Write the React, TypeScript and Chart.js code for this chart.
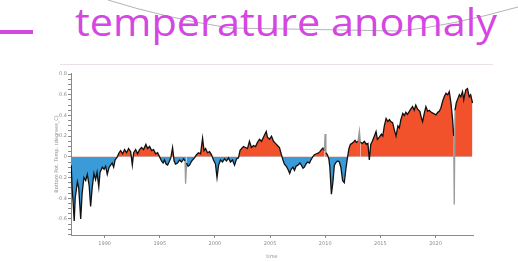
import React, { useEffect, useRef } from "react";
import { Chart, registerables } from "chart.js";
Chart.register(...registerables);

const TITLE = "temperature anomaly";
const X_TITLE = "time";
const Y_TITLE = "Bottom Pot. Temp. (degrees_C)";
const xTickYears = [1990, 1995, 2000, 2005, 2010, 2015, 2020];
const yTickValues = [-0.6, -0.4, -0.2, 0, 0.2, 0.4, 0.6, 0.8];

const years = [
  1986.97, 1987.05, 1987.15, 1987.24, 1987.33, 1987.53, 1987.65, 1987.83, 1987.96, 1988.12,
  1988.28, 1988.43, 1988.6, 1988.73, 1988.87, 1989.03, 1989.18, 1989.31, 1989.47, 1989.58,
  1989.79, 1989.95, 1990.09, 1990.24, 1990.41, 1990.54, 1990.68, 1990.82, 1990.95, 1991.15,
  1991.31, 1991.45, 1991.63, 1991.81, 1991.99, 1992.17, 1992.36, 1992.51, 1992.63, 1992.81,
  1992.99, 1993.17, 1993.35, 1993.53, 1993.74, 1993.9, 1994.08, 1994.26, 1994.44, 1994.62,
  1994.8, 1994.98, 1995.16, 1995.3, 1995.43, 1995.57, 1995.71, 1995.84, 1996.0, 1996.16,
  1996.3, 1996.43, 1996.61, 1996.79, 1996.97, 1997.16, 1997.29, 1997.34, 1997.43, 1997.56,
  1997.7, 1997.84, 1997.97, 1998.15, 1998.33, 1998.51, 1998.7, 1998.88, 1999.01, 1999.15,
  1999.33, 1999.51, 1999.69, 1999.87, 2000.05, 2000.19, 2000.33, 2000.51, 2000.69, 2000.87,
  2001.05, 2001.23, 2001.41, 2001.59, 2001.78, 2001.96, 2002.14, 2002.27, 2002.41, 2002.59,
  2002.77, 2002.95, 2003.13, 2003.31, 2003.5, 2003.68, 2003.86, 2004.04, 2004.22, 2004.4,
  2004.65, 2004.76, 2004.95, 2005.13, 2005.31, 2005.49, 2005.67, 2005.85, 2006.03, 2006.17,
  2006.3, 2006.46, 2006.62, 2006.78, 2006.91, 2007.07, 2007.21, 2007.36, 2007.52, 2007.7,
  2007.84, 2007.99, 2008.11, 2008.25, 2008.39, 2008.57, 2008.7, 2008.87, 2009.02, 2009.2,
  2009.36, 2009.52, 2009.66, 2009.79, 2009.93, 2009.99, 2010.06, 2010.2, 2010.33, 2010.42,
  2010.56, 2010.69, 2010.83, 2011.01, 2011.14, 2011.28, 2011.42, 2011.58, 2011.73, 2011.87,
  2012.0, 2012.15, 2012.28, 2012.42, 2012.55, 2012.7, 2012.83, 2012.97, 2013.1, 2013.19,
  2013.37, 2013.55, 2013.73, 2013.87, 2014.0, 2014.13, 2014.27, 2014.45, 2014.61, 2014.73,
  2014.91, 2015.09, 2015.22, 2015.36, 2015.52, 2015.68, 2015.82, 2015.95, 2016.11, 2016.27,
  2016.42, 2016.59, 2016.72, 2016.86, 2017.03, 2017.17, 2017.31, 2017.45, 2017.63, 2017.75,
  2017.92, 2018.07, 2018.21, 2018.38, 2018.58, 2018.71, 2018.83, 2018.98, 2019.13, 2019.29,
  2019.44, 2019.62, 2019.8, 2020.05, 2020.2, 2020.34, 2020.48, 2020.64, 2020.79, 2020.95,
  2021.11, 2021.25, 2021.4, 2021.55, 2021.65, 2021.7, 2021.77, 2021.88, 2022.02, 2022.16,
  2022.29, 2022.45, 2022.56, 2022.65, 2022.76, 2022.9, 2023.06, 2023.19, 2023.36,
];

const values = [
  -0.08, -0.3, -0.45, -0.62, -0.4, -0.24, -0.3, -0.6, -0.35, -0.2,
  -0.23, -0.17, -0.28, -0.48, -0.3, -0.16, -0.22, -0.15, -0.29, -0.15,
  -0.1, -0.12, -0.09, -0.17, -0.1, -0.08, -0.06, -0.1, -0.03, 0.0,
  0.04, 0.06, 0.03, 0.07, 0.04, 0.08, 0.05, -0.08, 0.04, 0.07,
  0.03, 0.07, 0.09, 0.07, 0.12, 0.08, 0.1, 0.06, 0.07, 0.03,
  0.04, 0.0, -0.04, -0.06, -0.03, -0.07, -0.08, -0.05, -0.01, 0.09,
  -0.04, -0.07, -0.06, -0.03, -0.05, -0.02, -0.04, -0.26, -0.06, -0.09,
  -0.08, -0.05, -0.03, -0.01, 0.02, 0.04, 0.03, 0.18, 0.06, 0.08,
  0.04, 0.05, 0.02, -0.03, -0.07, -0.2, -0.08, -0.03, -0.05, -0.02,
  -0.04, -0.01, -0.05, -0.03, -0.08, -0.02, -0.01, 0.06, 0.08, 0.1,
  0.09, 0.08, 0.15, 0.09, 0.11, 0.1, 0.14, 0.17, 0.15, 0.19,
  0.245, 0.19, 0.17, 0.2, 0.15, 0.13, 0.11, 0.09, 0.02, -0.03,
  -0.07, -0.09, -0.12, -0.16, -0.12, -0.1, -0.13, -0.09, -0.08, -0.06,
  -0.08, -0.11, -0.1, -0.07, -0.05, -0.06, -0.03, 0.0, 0.02, 0.03,
  0.035, 0.05, 0.07, 0.085, 0.06, 0.22, 0.04, 0.02, -0.02, -0.1,
  -0.36, -0.25, -0.08, -0.05, -0.04, -0.05, -0.1, -0.23, -0.25, -0.12,
  -0.02, 0.08, 0.12, 0.13, 0.14, 0.16, 0.14, 0.15, 0.25, 0.14,
  0.13, 0.15, 0.12, 0.13, -0.03, 0.12, 0.15, 0.2, 0.245, 0.17,
  0.19, 0.22, 0.2, 0.3, 0.37, 0.34, 0.36, 0.34, 0.33, 0.26,
  0.2, 0.3, 0.28, 0.36, 0.42, 0.4, 0.43, 0.41, 0.44, 0.46,
  0.485, 0.45, 0.5, 0.46, 0.44, 0.38, 0.34, 0.42, 0.485, 0.44,
  0.45, 0.43, 0.42, 0.405, 0.43, 0.44, 0.47, 0.535, 0.58, 0.615,
  0.6, 0.63, 0.52, 0.36, 0.2, -0.46, 0.45, 0.52, 0.56, 0.6,
  0.58, 0.63, 0.55, 0.6, 0.65, 0.66, 0.58, 0.6, 0.52,
];

const greySpikeYears = [1997.34, 2009.99, 2013.1, 2021.7];

const MAGENTA = "#d447e2";
const RED = "#f2522b";
const BLUE = "#3b9bd8";
const AXIS_GREY = "#8a8a8a";
const TEXT_GREY = "#8c8c8c";

function ChartCanvas() {
  const ref = useRef<HTMLCanvasElement | null>(null);
  useEffect(() => {
    if (!ref.current) return;
    const points = years.map((x, i) => ({ x, y: values[i] }));
    const greyIdx = new Set(
      greySpikeYears.map((g) => years.findIndex((y) => Math.abs(y - g) < 1e-6))
    );
    const chart = new Chart(ref.current, {
      type: "line",
      data: {
        datasets: [
          {
            data: points,
            borderColor: "#111111",
            borderWidth: 1.3,
            pointRadius: 0,
            tension: 0,
            fill: { target: "origin", above: RED, below: BLUE },
            segment: {
              borderColor: (ctx: any) =>
                greyIdx.has(ctx.p0DataIndex) || greyIdx.has(ctx.p1DataIndex)
                  ? "#9a9a9a"
                  : "#111111",
            },
          },
        ],
      },
      options: {
        responsive: false,
        animation: false,
        events: [],
        layout: { padding: { top: 9, right: 20, left: 0, bottom: 0 } },
        plugins: { legend: { display: false }, tooltip: { enabled: false } },
        scales: {
          x: {
            type: "linear",
            min: 1986.95,
            max: 2023.4,
            grid: {
              display: true,
              drawOnChartArea: false,
              tickLength: 3,
              color: AXIS_GREY,
            },
            border: { display: true, color: AXIS_GREY, width: 1 },
            ticks: {
              stepSize: 5,
              includeBounds: false,
              autoSkip: false,
              maxRotation: 0,
              padding: 3,
              color: TEXT_GREY,
              font: { size: 5, family: "DejaVu Sans" },
              callback: (v: any) => (xTickYears.includes(Number(v)) ? String(v) : ""),
            },
            title: {
              display: true,
              text: X_TITLE,
              color: TEXT_GREY,
              padding: { top: 2, bottom: 2 },
              font: { size: 5, family: "DejaVu Sans" },
            },
            afterFit: (s: any) => {
              s.height = 27;
            },
          },
          y: {
            min: -0.755,
            max: 0.81,
            grid: {
              display: true,
              drawOnChartArea: false,
              tickLength: 3,
              color: AXIS_GREY,
            },
            border: { display: true, color: AXIS_GREY, width: 1 },
            ticks: {
              stepSize: 0.05,
              includeBounds: false,
              autoSkip: false,
              padding: 1,
              color: TEXT_GREY,
              font: { size: 5, family: "DejaVu Sans" },
              callback: (v: any) => {
                const n = Number(v);
                const hit = yTickValues.find((t) => Math.abs(t - n) < 1e-6);
                if (hit === undefined) return "";
                return hit === 0 ? "0" : hit.toFixed(1);
              },
            },
            title: {
              display: true,
              text: Y_TITLE,
              color: TEXT_GREY,
              padding: { top: 2, bottom: 0 },
              font: { size: 5, family: "DejaVu Sans" },
            },
            afterFit: (s: any) => {
              s.width = 19;
            },
          },
        },
      },
    } as any);
    return () => chart.destroy();
  }, []);
  return (
    <canvas
      ref={ref}
      width={441}
      height={198}
      style={{ position: "absolute", left: 52, top: 64, width: 441, height: 198 }}
    />
  );
}

export default function App() {
  return (
    <div
      style={{
        position: "fixed",
        left: 0,
        top: 0,
        width: 518,
        height: 262,
        background: "#ffffff",
        overflow: "hidden",
      }}
    >
      <svg
        width={518}
        height={262}
        style={{ position: "absolute", left: 0, top: 0 }}
      >
        <path
          d="M108,0 Q165,18 230,28 L400,31 Q450,26 518,7"
          fill="none"
          stroke="#b4b4b4"
          strokeWidth={1}
        />
        <line x1={0} y1={32} x2={33} y2={32} stroke={MAGENTA} strokeWidth={4} />
        <text
          x={75}
          y={36}
          fill={MAGENTA}
          fontFamily="'Open Sans', 'Noto Sans', sans-serif"
          fontSize={38}
          textLength={422}
          lengthAdjust="spacingAndGlyphs"
        >
          {TITLE}
        </text>
        <line x1={60} y1={64.5} x2={493} y2={64.5} stroke="#e8dfe8" strokeWidth={1} />
      </svg>
      <ChartCanvas />
    </div>
  );
}
